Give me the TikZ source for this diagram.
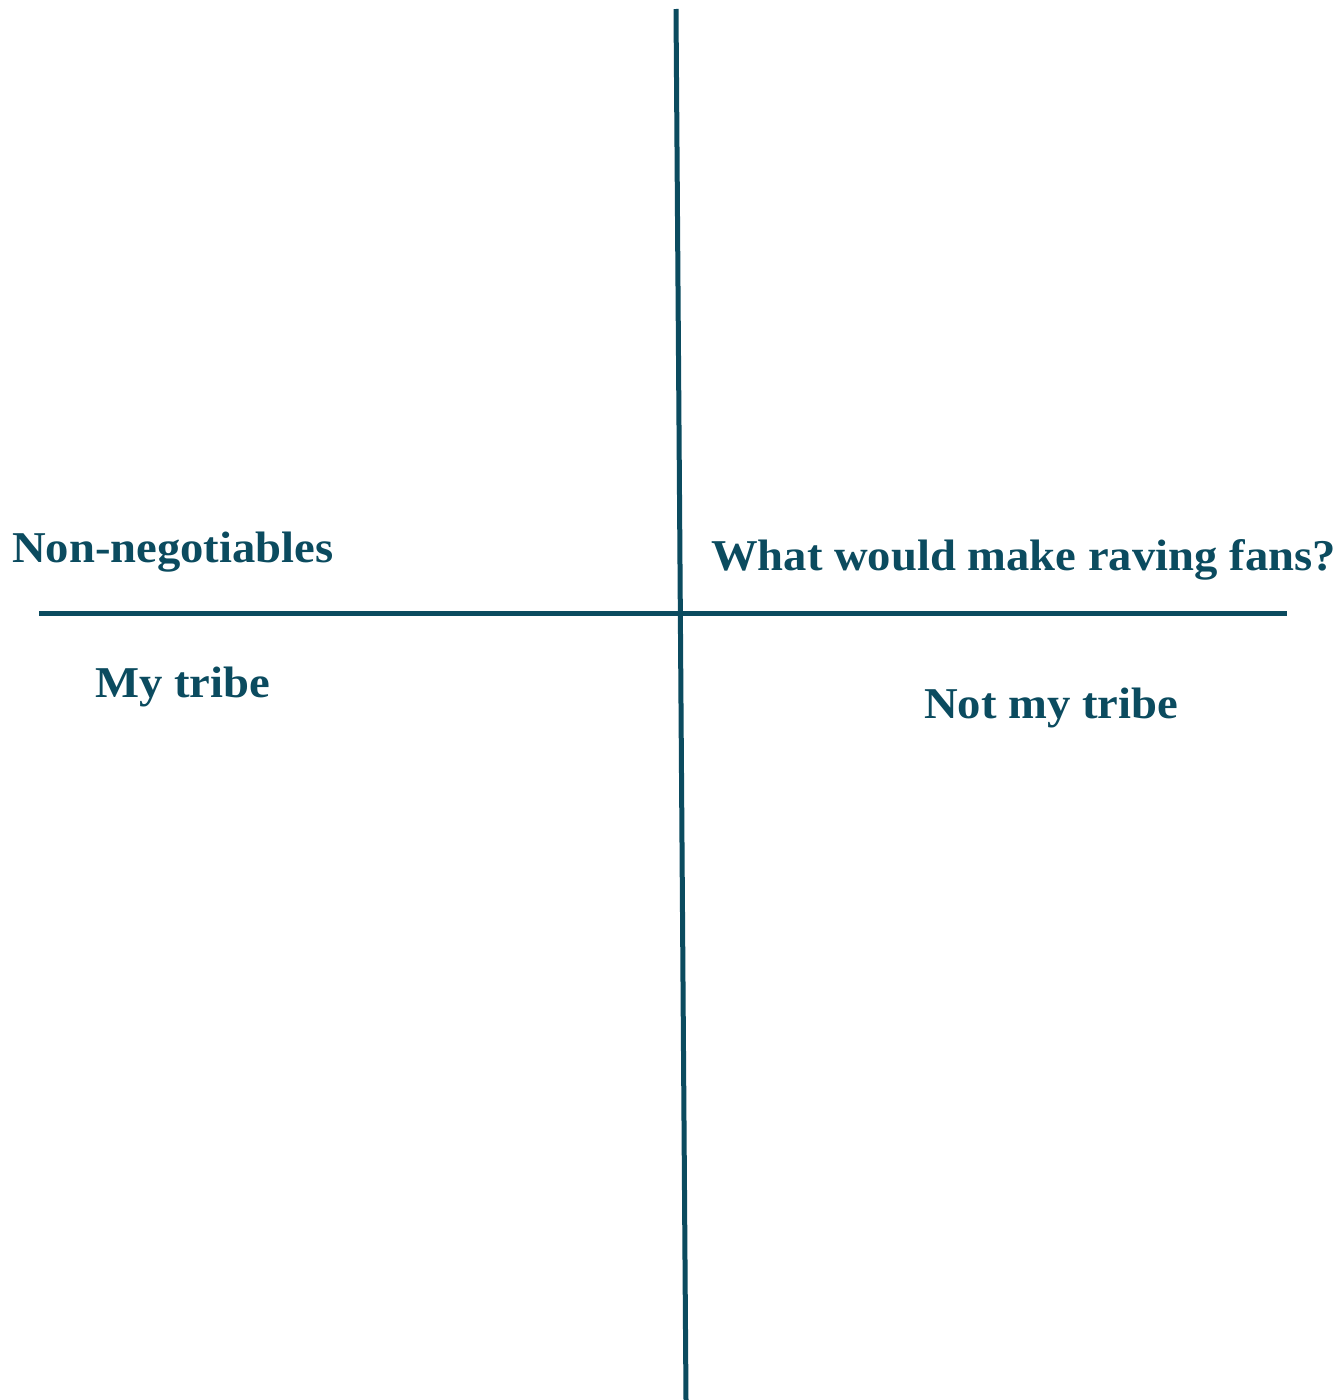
\documentclass[tikz,border=0pt]{standalone}
\usepackage{fontspec}
\setmainfont{Liberation Serif}
\definecolor{teal}{HTML}{0B4B5F}
\begin{document}
\begin{tikzpicture}[x=1pt,y=-1pt,
  lbl/.style={anchor=base west,inner sep=0pt,text=teal,xscale=1.06,transform shape,font=\fontsize{44}{50}\selectfont\bfseries},
  axis/.style={draw=teal,line width=5pt}]
\useasboundingbox (0,0) rectangle (1342,1400);
\coordinate (vt) at (676,9);
\coordinate (vb) at (686,1400);
\coordinate (hl) at (39,613.5);
\coordinate (hr) at (1287,613.5);
\draw[axis] (vt) -- (vb);
\draw[axis] (hl) -- (hr);
\node[lbl] (nn) at (12,562) {Non-negotiables};
\node[lbl] (wr) at (711,570) {What would make raving fans?};
\node[lbl] (mt) at (95,697) {My tribe};
\node[lbl] (nt) at (924,718) {Not my tribe};
\end{tikzpicture}
\end{document}
